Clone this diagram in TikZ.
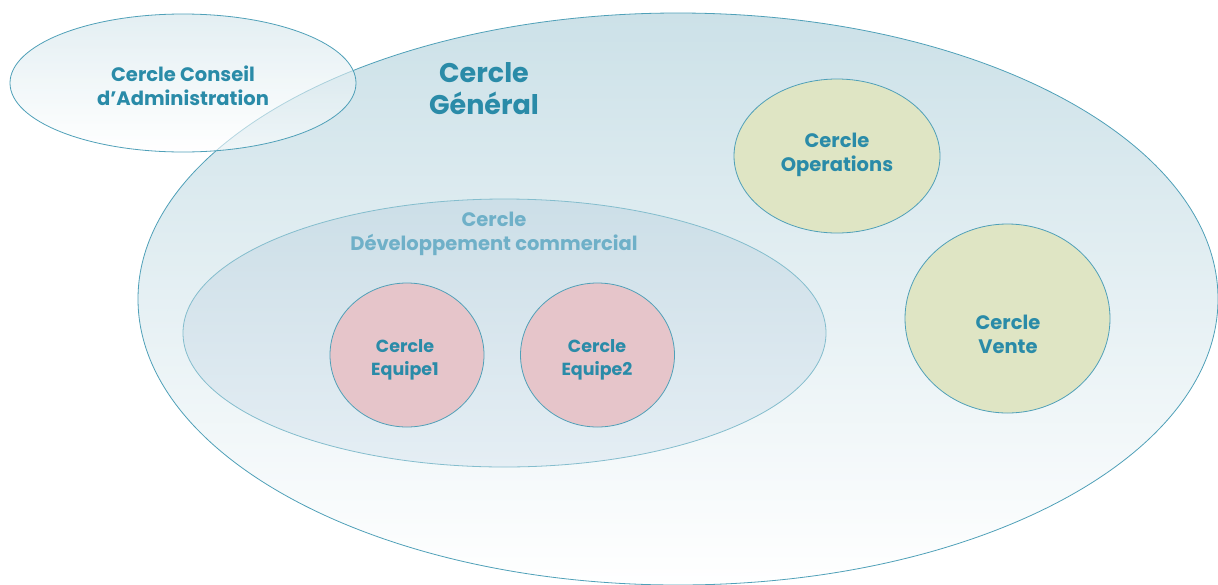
\documentclass[tikz,border=0pt]{standalone}
\usepackage{fontspec}
\setmainfont{Poppins}
\usetikzlibrary{shapes.geometric}
\definecolor{edge}{HTML}{4FA0B8}
\definecolor{txt}{HTML}{2A8BA8}
\definecolor{txtlight}{HTML}{6FB0C8}
\definecolor{bigtop}{HTML}{CCE1E8}
\definecolor{bigbot}{HTML}{FFFFFF}
\definecolor{devtop}{HTML}{C8DCE6}
\definecolor{devbot}{HTML}{E2ECF3}
\definecolor{pink}{HTML}{E6C5CA}
\definecolor{green}{HTML}{DFE5C4}
\tikzset{
  circ/.style={ellipse, draw=edge, line width=0.8pt, inner sep=0pt},
  lbl/.style={text=txt, font=\bfseries\fontsize{19.5}{24}\selectfont, align=center, inner sep=0pt},
}
\begin{document}
\begin{tikzpicture}[x=1pt,y=-1pt]
\useasboundingbox (0,0) rectangle (1218,584);
\node[circ, minimum width=1080pt, minimum height=572pt, top color=bigtop, bottom color=bigbot] (gen) at (678,299) {};
\node[circ, minimum width=346pt, minimum height=138pt, top color=bigtop!90, bottom color=white, fill opacity=0.6] (ca) at (183,83) {};
\node[circ, draw=edge!70, minimum width=643pt, minimum height=268pt, top color=devtop, bottom color=devbot, fill opacity=0.8] (dev) at (504.5,333) {};
\node[circ, minimum width=154pt, minimum height=144pt, fill=pink] (e1) at (407,355) {};
\node[circ, minimum width=154pt, minimum height=144pt, fill=pink] (e2) at (597.5,355) {};
\node[circ, minimum width=206pt, minimum height=154pt, fill=green] (op) at (837,156) {};
\node[circ, minimum width=205pt, minimum height=189pt, fill=green] (ve) at (1007.5,318.5) {};
\node[lbl] (tca) at (183,86) {Cercle Conseil\\d’Administration};
\node[lbl, font=\bfseries\fontsize{27}{32}\selectfont] (tgen) at (484,89) {Cercle\\Général};
\node[lbl, text=txtlight] (tdev) at (494,234) {Cercle\\Développement commercial};
\node[lbl, font=\bfseries\fontsize{17.5}{23}\selectfont] (te1) at (405,360) {Cercle\\Equipe1};
\node[lbl, font=\bfseries\fontsize{17.5}{23}\selectfont] (te2) at (597,360) {Cercle\\Equipe2};
\node[lbl] (top) at (837,155) {Cercle\\Operations};
\node[lbl] (tve) at (1008,334) {Cercle\\Vente};
\end{tikzpicture}
\end{document}
